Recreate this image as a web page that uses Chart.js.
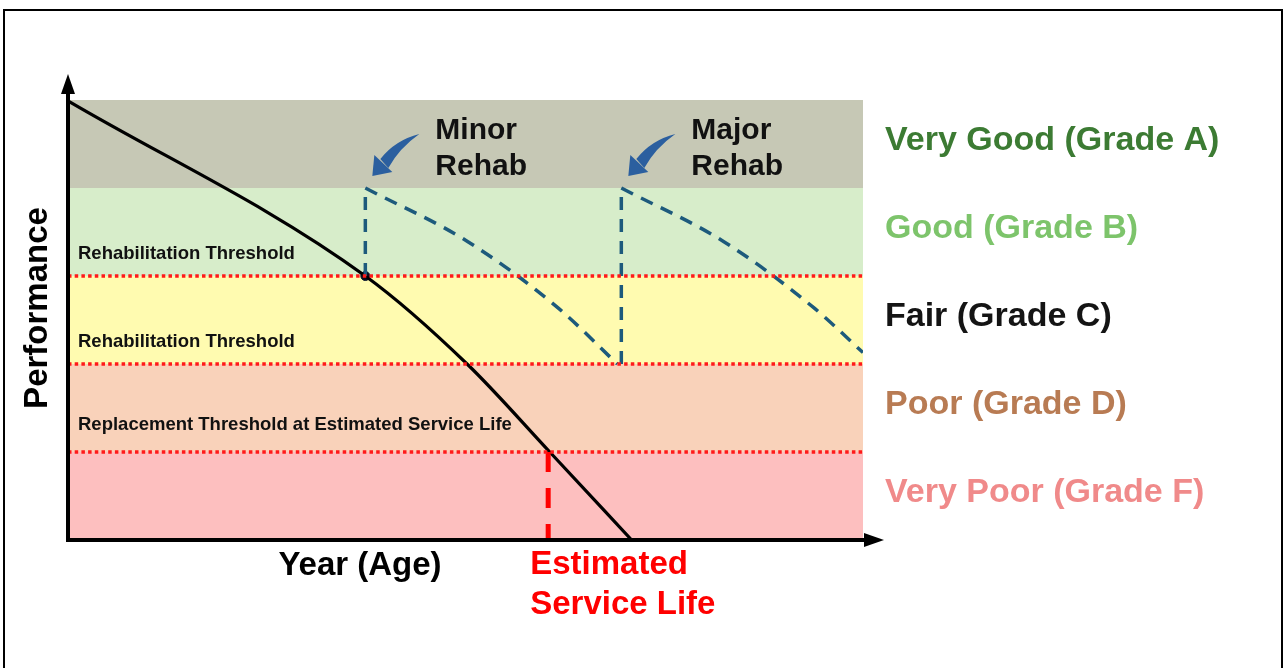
<!DOCTYPE html>
<html>
<head>
<meta charset="utf-8">
<script src="https://cdn.jsdelivr.net/npm/chart.js@4.4.1/dist/chart.umd.min.js"></script>
<style>
  html, body { margin: 0; padding: 0; background: #fff; }
  #wrap { position: relative; width: 1286px; height: 668px; overflow: hidden; }
  #frame { position: absolute; left: 3px; top: 9px; width: 1280px; height: 700px; border: 2.5px solid #000; box-sizing: border-box; }
  canvas { position: absolute; left: 0; top: 0; }
</style>
</head>
<body>
<div id="wrap">
  <div id="frame"></div>
  <canvas id="chart" width="1286" height="668"></canvas>
</div>
<script>
// condition bands (performance scale 0..5, one unit per grade)
const grades = ["Very Poor (Grade F)", "Poor (Grade D)", "Fair (Grade C)", "Good (Grade B)", "Very Good (Grade A)"];
const bandEdges = [0, 1, 2, 3, 4, 5];
const bandColors = ["#fdbfbf", "#f9d2ba", "#fffbb0", "#d7edca", "#c6c8b5"];
const gradeColors = ["#f08a8a", "#b87b53", "#141414", "#7dc46b", "#3c7b33"];

// thresholds
const thresholds = [3, 2, 1];
const thresholdLabels = ["Rehabilitation Threshold", "Rehabilitation Threshold", "Replacement Threshold at Estimated Service Life"];

// deterioration curve without treatment
const years = [0, 37.4, 50.2, 60.6, 70.9];
const performance = [4.99, 3.0, 2.0, 1.0, 0];

// after minor rehab
const minorYears = [37.4, 50.3, 61.6, 69.1];
const minorPerf = [4.0, 3.39, 2.64, 2.0];

// after major rehab
const majorYears = [69.6, 82.5, 93.8, 100];
const majorPerf = [4.0, 3.39, 2.64, 2.13];

const rehabYears = [37.4, 69.6];
const rehabFrom = [3.0, 2.0];
const rehabTo = [4.0, 4.0];
const rehabNames = [["Minor", "Rehab"], ["Major", "Rehab"]];

const serviceLife = 60.4;

const pts = (xs, ys) => xs.map((x, i) => ({ x: x, y: ys[i] }));

const blue = "#1d5a7c";
const datasets = [];

thresholds.forEach(t => {
  datasets.push({
    data: [{ x: 0, y: t }, { x: 100, y: t }],
    borderColor: "#ff1a1a", borderWidth: 3.5, borderDash: [3.5, 3.2],
    pointRadius: 0, showLine: true,
  });
});

datasets.push({
  data: [{ x: serviceLife, y: 1 }, { x: serviceLife, y: 0 }],
  borderColor: "#ff0000", borderWidth: 5, borderDash: [20, 16],
  pointRadius: 0, showLine: true,
});

rehabYears.forEach((x, i) => {
  datasets.push({
    data: [{ x: x, y: rehabFrom[i] }, { x: x, y: rehabTo[i] }],
    borderColor: blue, borderWidth: 3.5, borderDash: [13, 9],
    pointRadius: 0, showLine: true,
  });
});

[[minorYears, minorPerf], [majorYears, majorPerf]].forEach(([xs, ys]) => {
  datasets.push({
    data: pts(xs, ys),
    borderColor: blue, borderWidth: 3.5, borderDash: [13, 9],
    pointRadius: 0, showLine: true, cubicInterpolationMode: "monotone",
  });
});

datasets.push({
  data: pts(years, performance),
  borderColor: "#000", borderWidth: 3.2,
  pointRadius: 0, showLine: true, cubicInterpolationMode: "monotone",
});

datasets.push({
  data: [{ x: rehabYears[0], y: rehabFrom[0] }],
  pointRadius: 4.5, pointBackgroundColor: "#0b0b1c", pointBorderColor: "#0b1a33",
  showLine: false,
});

const bandsPlugin = {
  id: "bands",
  beforeDatasetsDraw(chart) {
    const { ctx, chartArea: a, scales: { y } } = chart;
    ctx.save();
    for (let i = 0; i < bandColors.length; i++) {
      const top = y.getPixelForValue(bandEdges[i + 1]);
      const bot = y.getPixelForValue(bandEdges[i]);
      ctx.fillStyle = bandColors[i];
      ctx.fillRect(a.left, top, a.right - a.left, bot - top);
    }
    ctx.restore();
  },
};

function arrowHead(ctx, x, y, dx, dy, len, half) {
  const l = Math.hypot(dx, dy);
  const ux = dx / l, uy = dy / l;
  ctx.beginPath();
  ctx.moveTo(x, y);
  ctx.lineTo(x - ux * len - uy * half, y - uy * len + ux * half);
  ctx.lineTo(x - ux * len + uy * half, y - uy * len - ux * half);
  ctx.closePath();
  ctx.fill();
}

const textPlugin = {
  id: "texts",
  afterDraw(chart) {
    const { ctx, chartArea: a, scales: { x, y } } = chart;
    ctx.save();

    // axes with arrowheads
    ctx.strokeStyle = "#000";
    ctx.fillStyle = "#000";
    ctx.lineWidth = 4;
    ctx.beginPath();
    ctx.moveTo(a.left, a.bottom);
    ctx.lineTo(a.left, 88);
    ctx.moveTo(a.left - 2, a.bottom);
    ctx.lineTo(a.right + 8, a.bottom);
    ctx.stroke();
    arrowHead(ctx, a.left, 74, 0, -1, 20, 7);
    arrowHead(ctx, a.right + 21, a.bottom, 1, 0, 20, 7);

    // threshold labels
    const labelOffsets = [22, 22, 27];
    ctx.font = "bold 18.5px 'Liberation Sans', Arial, sans-serif";
    ctx.textBaseline = "middle";
    ctx.textAlign = "left";
    ctx.fillStyle = "#111";
    thresholds.forEach((t, i) => {
      ctx.fillText(thresholdLabels[i], a.left + 10, y.getPixelForValue(t) - labelOffsets[i]);
    });

    // grade labels
    ctx.font = "bold 34px 'Liberation Sans', Arial, sans-serif";
    grades.forEach((g, i) => {
      const cy = (y.getPixelForValue(bandEdges[i]) + y.getPixelForValue(bandEdges[i + 1])) / 2;
      ctx.fillStyle = gradeColors[i];
      ctx.fillText(g, a.right + 22, cy - 3);
    });

    // rehab labels and curved arrows
    ctx.font = "bold 30px 'Liberation Sans', Arial, sans-serif";
    rehabYears.forEach((ry, i) => {
      const px = x.getPixelForValue(ry);
      const top = y.getPixelForValue(rehabTo[i]);
      ctx.fillStyle = "#111";
      ctx.fillText(rehabNames[i][0], px + 70, top - 57);
      ctx.fillText(rehabNames[i][1], px + 70, top - 21);

      // tapered blue swoosh arrow
      ctx.fillStyle = "#2b5f9f";
      ctx.beginPath();
      ctx.moveTo(px + 54, top - 54);
      ctx.quadraticCurveTo(px + 30, top - 48, px + 15, top - 29);
      ctx.lineTo(px + 23, top - 20);
      ctx.quadraticCurveTo(px + 34, top - 40, px + 54, top - 54);
      ctx.fill();
      ctx.beginPath();
      ctx.moveTo(px + 7, top - 12);
      ctx.lineTo(px + 9, top - 33);
      ctx.lineTo(px + 27, top - 16);
      ctx.closePath();
      ctx.fill();
    });

    // axis titles
    ctx.font = "bold 33px 'Liberation Sans', Arial, sans-serif";
    ctx.fillStyle = "#000";
    ctx.textAlign = "center";
    ctx.fillText("Year (Age)", 360, a.bottom + 26);

    ctx.save();
    ctx.translate(38, 308);
    ctx.rotate(-Math.PI / 2);
    ctx.fillText("Performance", 0, 0);
    ctx.restore();

    ctx.textAlign = "left";
    ctx.fillStyle = "#ff0000";
    const sx = x.getPixelForValue(serviceLife) - 18;
    ctx.fillText("Estimated", sx, a.bottom + 25);
    ctx.fillText("Service Life", sx, a.bottom + 65);

    ctx.restore();
  },
};

new Chart(document.getElementById("chart"), {
  type: "scatter",
  data: { datasets: datasets },
  options: {
    responsive: false,
    animation: false,
    layout: { padding: { left: 68, right: 423, top: 100, bottom: 128 } },
    scales: {
      x: { type: "linear", min: 0, max: 100, display: false },
      y: { type: "linear", min: 0, max: 5, display: false },
    },
    plugins: { legend: { display: false }, tooltip: { enabled: false } },
  },
  plugins: [bandsPlugin, textPlugin],
});
</script>
</body>
</html>
